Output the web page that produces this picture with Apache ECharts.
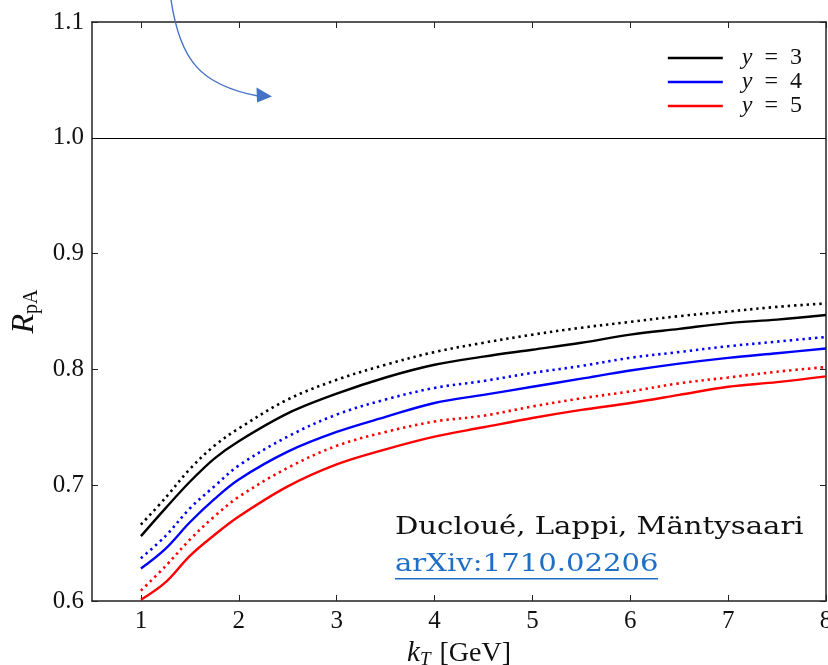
<!DOCTYPE html>
<html>
<head>
<meta charset="utf-8">
<script src="https://cdn.jsdelivr.net/npm/echarts@6/dist/echarts.min.js"></script>
<style>
  html, body { margin: 0; padding: 0; background: #fff; }
  #rpa-chart { width: 828px; height: 665px; }
</style>
</head>
<body>
<div id="rpa-chart"></div>
<script>
var kT = [1, 1.25, 1.5, 1.75, 2, 2.5, 3, 3.5, 4, 4.5, 5, 5.5, 6, 6.5, 7, 7.5, 8];
var y3Solid  = [0.656, 0.680, 0.703, 0.723, 0.738, 0.762, 0.779, 0.793, 0.804, 0.811, 0.817, 0.823, 0.830, 0.835, 0.840, 0.843, 0.847];
var y3Dotted = [0.666, 0.689, 0.714, 0.734, 0.749, 0.774, 0.791, 0.804, 0.815, 0.823, 0.830, 0.836, 0.841, 0.846, 0.850, 0.854, 0.857];
var y4Solid  = [0.628, 0.645, 0.668, 0.688, 0.705, 0.729, 0.746, 0.759, 0.771, 0.778, 0.785, 0.792, 0.799, 0.805, 0.810, 0.814, 0.818];
var y4Dotted = [0.637, 0.656, 0.680, 0.699, 0.717, 0.742, 0.761, 0.774, 0.784, 0.790, 0.797, 0.803, 0.810, 0.815, 0.820, 0.824, 0.828];
var y5Solid  = [0.601, 0.616, 0.639, 0.657, 0.673, 0.699, 0.718, 0.731, 0.742, 0.750, 0.758, 0.765, 0.771, 0.778, 0.785, 0.789, 0.794];
var y5Dotted = [0.609, 0.630, 0.653, 0.673, 0.690, 0.715, 0.734, 0.746, 0.755, 0.760, 0.768, 0.775, 0.781, 0.788, 0.793, 0.798, 0.802];
var xTicks = [1, 2, 3, 4, 5, 6, 7, 8];
var legendNames = ['y = 3', 'y = 4', 'y = 5'];

function pairs(ys) {
    var out = [];
    for (var i = 0; i < kT.length; i++) out.push([kT[i], ys[i]]);
    return out;
}

var serif = 'Liberation Serif';
var axisColor = '#222';

function curve(name, ys, color, dotted) {
    return {
        name: name,
        type: 'line',
        data: pairs(ys),
        smooth: 0.35,
        showSymbol: false,
        symbol: 'none',
        animation: false,
        lineStyle: { color: color, width: dotted ? 2.6 : 2.4, type: dotted ? [2.4, 3.9] : 'solid' },
        itemStyle: { color: color },
        z: dotted ? 3 : 4
    };
}

var myChart = echarts.init(document.getElementById('rpa-chart'));
var option = {
    backgroundColor: '#fff',
    animation: false,
    grid: { left: 92, right: 2, top: 22, bottom: 64, outerBoundsMode: 'none', containLabel: false },
    legend: {
        data: legendNames,
        orient: 'vertical',
        right: 21,
        top: 41,
        icon: 'rect',
        itemWidth: 55,
        itemHeight: 2.5,
        itemGap: 0,
        formatter: function (name) {
            return '{i|y}\u2002=\u2002' + name.split('= ')[1];
        },
        textStyle: {
            fontFamily: serif,
            fontSize: 24,
            color: '#111',
            lineHeight: 23,
            padding: [0, 0, 0, 14],
            rich: {
                i: { fontFamily: serif, fontSize: 24, fontStyle: 'italic', lineHeight: 23 }
            }
        }
    },
    xAxis: [
        {
            type: 'value',
            min: 0.5,
            max: 8,
            position: 'bottom',
            name: '{k|k}{t|T} [GeV]',
            nameLocation: 'middle',
            nameGap: 33,
            nameTextStyle: {
                fontFamily: serif,
                fontSize: 28,
                color: '#111',
                rich: {
                    k: { fontFamily: serif, fontSize: 29, fontStyle: 'italic' },
                    t: { fontFamily: serif, fontSize: 19, fontStyle: 'italic', padding: [14, 2, 0, 0] }
                }
            },
            splitLine: { show: false },
            axisLine: { lineStyle: { color: axisColor, width: 1.5 } },
            axisTick: { inside: true, length: 6, customValues: xTicks, lineStyle: { color: axisColor } },
            axisLabel: {
                customValues: xTicks,
                margin: 8,
                fontFamily: serif,
                fontSize: 25,
                color: '#111'
            }
        },
        {
            type: 'value',
            min: 0.5,
            max: 8,
            position: 'top',
            splitLine: { show: false },
            axisLine: { lineStyle: { color: axisColor, width: 1.5 } },
            axisTick: { inside: true, length: 6, customValues: xTicks, lineStyle: { color: axisColor } },
            axisLabel: { show: false }
        }
    ],
    yAxis: [
        {
            type: 'value',
            min: 0.6,
            max: 1.1,
            interval: 0.1,
            position: 'left',
            name: '{r|R}{s|pA}',
            nameLocation: 'middle',
            nameGap: 42,
            nameTextStyle: {
                fontFamily: serif,
                color: '#111',
                rich: {
                    r: { fontFamily: serif, fontSize: 32, fontStyle: 'italic' },
                    s: { fontFamily: serif, fontSize: 20, padding: [14, 0, 0, 0] }
                }
            },
            splitLine: { show: false },
            axisLine: { lineStyle: { color: axisColor, width: 1.5 } },
            axisTick: { inside: true, length: 6, lineStyle: { color: axisColor } },
            axisLabel: {
                margin: 8,
                fontFamily: serif,
                fontSize: 25,
                color: '#111',
                formatter: function (v) { return v.toFixed(1); }
            }
        },
        {
            type: 'value',
            min: 0.6,
            max: 1.1,
            interval: 0.1,
            position: 'right',
            splitLine: { show: false },
            axisLine: { lineStyle: { color: axisColor, width: 1.5 } },
            axisTick: { inside: true, length: 6, lineStyle: { color: axisColor } },
            axisLabel: { show: false }
        }
    ],
    series: [
        curve('y = 3 dotted', y3Dotted, '#000000', true),
        curve('y = 4 dotted', y4Dotted, '#0000ff', true),
        curve('y = 5 dotted', y5Dotted, '#ff0000', true),
        curve('y = 3', y3Solid, '#000000', false),
        curve('y = 4', y4Solid, '#0000ff', false),
        curve('y = 5', y5Solid, '#ff0000', false),
        {
            name: 'unity',
            type: 'line',
            data: [],
            markLine: {
                silent: true,
                symbol: 'none',
                label: { show: false },
                lineStyle: { color: '#000', width: 1, type: 'solid' },
                data: [{ yAxis: 1.0 }]
            }
        }
    ],
    graphic: [
        {
            type: 'bezierCurve',
            shape: { x1: 171, y1: 0, cpx1: 180, cpy1: 60, cpx2: 200, cpy2: 85, x2: 258, y2: 96 },
            style: { stroke: '#4472c4', lineWidth: 1.4, fill: null },
            z: 10
        },
        {
            type: 'polygon',
            shape: { points: [[272, 96.5], [256.5, 87.5], [257, 102.5]] },
            style: { fill: '#4472c4' },
            z: 10
        },
        {
            type: 'text',
            x: 395,
            y: 515,
            scaleX: 1.165,
            style: {
                text: 'Ducloué, Lappi, Mäntysaari',
                font: '25px "DejaVu Serif"',
                fill: '#111'
            },
            z: 10
        },
        {
            type: 'text',
            x: 395,
            y: 552,
            scaleX: 1.165,
            style: {
                text: 'arXiv:1710.02206',
                font: '25px "DejaVu Serif"',
                fill: '#1f6fc6'
            },
            z: 10
        },
        {
            type: 'rect',
            x: 395,
            y: 578,
            shape: { width: 263, height: 1.6 },
            style: { fill: '#1f6fc6' },
            z: 10
        }
    ]
};
myChart.setOption(option);
</script>
</body>
</html>
